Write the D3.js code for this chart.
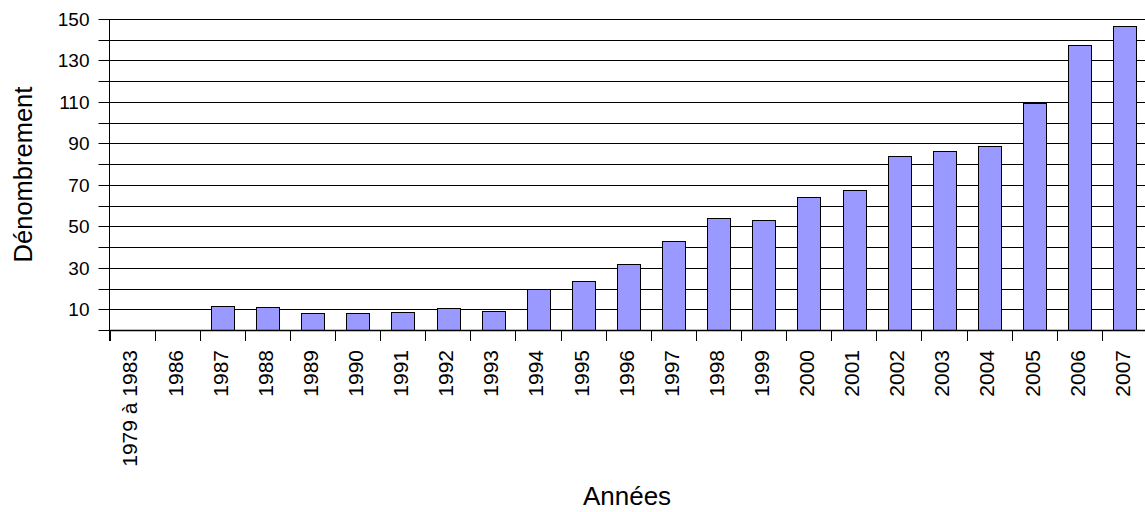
<!DOCTYPE html>
<html>
<head>
<meta charset="utf-8">
<script src="https://cdn.jsdelivr.net/npm/d3@7"></script>
<style>
  body { margin: 0; background: #fff; }
  svg { display: block; font-family: "Liberation Sans", Arial, sans-serif; }
</style>
</head>
<body>
<script>
// Data

var categories = ['1979 à 1983', '1986', '1987', '1988', '1989', '1990', '1991',
    '1992', '1993', '1994', '1995', '1996', '1997', '1998', '1999', '2000',
    '2001', '2002', '2003', '2004', '2005', '2006', '2007'];

var counts = [0, 0, 11.7, 10.9, 8.4, 8, 8.5, 10.6, 9, 20, 23.6, 32, 43,
    54.2, 53.2, 64, 67.3, 83.8, 86.2, 88.9, 109.4, 137.6, 146.5];

var gridValues = d3.range(0, 151, 10);      // a line every 10
var tickLabels = [10, 30, 50, 70, 90, 110, 130, 150];

// Layout (note: "top" is taken by window.top, so plotTop)

var width = 1145;
var height = 512;
var plotLeft = 109.5;
var plotRight = 1147;
var plotTop = 19;
var plotBottom = 330;

var svg = d3.select('body').append('svg')
    .attr('width', width)
    .attr('height', height);

var x = d3.scaleBand()
    .domain(categories)
    .range([plotLeft, plotRight])
    .paddingInner(0.5)
    .paddingOuter(0.25);

var y = d3.scaleLinear()
    .domain([0, 150])
    .range([plotBottom, plotTop]);

function py(v) { return Math.round(y(v)) + 0.5; }

// Horizontal grid lines (they run over the tick area on the left)
svg.append('g')
    .selectAll('line')
    .data(gridValues)
    .enter()
    .append('line')
    .attr('x1', plotLeft - 11)
    .attr('x2', plotRight)
    .attr('y1', py)
    .attr('y2', py)
    .attr('stroke', '#000')
    .attr('stroke-width', 1);

// Y tick labels
svg.append('g')
    .selectAll('text')
    .data(tickLabels)
    .enter()
    .append('text')
    .attr('x', plotLeft - 20)
    .attr('y', py)
    .attr('dy', '0.35em')
    .attr('text-anchor', 'end')
    .attr('font-size', 19)
    .text(function (d) { return d; });

// Bars
svg.append('g')
    .selectAll('rect')
    .data(counts)
    .enter()
    .append('rect')
    .attr('x', function (d, i) { return Math.round(x(categories[i])) + 0.5; })
    .attr('y', py)
    .attr('width', Math.round(x.bandwidth()))
    .attr('height', function (d) { return py(0) - py(d); })
    .attr('fill', '#9999ff')
    .attr('stroke', '#000')
    .attr('stroke-width', 1)
    .style('display', function (d) { return d > 0 ? null : 'none'; });

// Y axis line
svg.append('line')
    .attr('x1', plotLeft)
    .attr('x2', plotLeft)
    .attr('y1', plotTop)
    .attr('y2', plotBottom + 11)
    .attr('stroke', '#000');

// X axis ticks at the band boundaries
var step = x.step();
var boundaries = d3.range(categories.length + 1);
svg.append('g')
    .selectAll('line')
    .data(boundaries)
    .enter()
    .append('line')
    .attr('x1', function (i) { return Math.round(plotLeft + i * step) + 0.5; })
    .attr('x2', function (i) { return Math.round(plotLeft + i * step) + 0.5; })
    .attr('y1', plotBottom)
    .attr('y2', plotBottom + 11)
    .attr('stroke', '#000');

// X axis baseline
svg.append('line')
    .attr('x1', plotLeft)
    .attr('x2', plotRight)
    .attr('y1', py(0))
    .attr('y2', py(0))
    .attr('stroke', '#000')
    .attr('stroke-width', 1.5);

// Rotated category labels
svg.append('g')
    .selectAll('text')
    .data(categories)
    .enter()
    .append('text')
    .attr('transform', function (d) {
        return 'translate(' + (x(d) + x.bandwidth() / 2 - 2) + ',' + (plotBottom + 20) + ') rotate(-90)';
    })
    .attr('dy', '0.35em')
    .attr('text-anchor', 'end')
    .attr('font-size', 21)
    .text(function (d) { return d; });

// Axis titles
svg.append('text')
    .attr('transform', 'translate(23,' + ((plotTop + plotBottom) / 2) + ') rotate(-90)')
    .attr('dy', '0.35em')
    .attr('text-anchor', 'middle')
    .attr('font-size', 25.5)
    .text('Dénombrement');

svg.append('text')
    .attr('x', 627)
    .attr('y', 505)
    .attr('text-anchor', 'middle')
    .attr('font-size', 26)
    .text('Années');
</script>
</body>
</html>
